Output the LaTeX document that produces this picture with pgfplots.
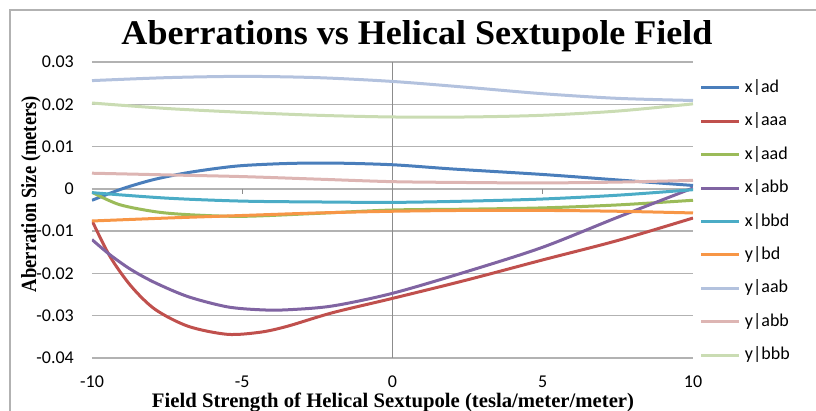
\documentclass[border=0pt]{standalone}
\usepackage{fontspec}
\setmainfont{Carlito}
\newfontfamily\titlefont{Liberation Serif}
\usepackage{graphicx}
\usepackage{pgfplots}
\pgfplotsset{compat=1.18}

\definecolor{cAD}{HTML}{4A7EBB}
\definecolor{cAAA}{HTML}{C0504D}
\definecolor{cAAD}{HTML}{9BBB59}
\definecolor{cABB}{HTML}{8064A2}
\definecolor{cBBD}{HTML}{4BACC6}
\definecolor{cBD}{HTML}{F79646}
\definecolor{cYAAB}{HTML}{B3C2DE}
\definecolor{cYABB}{HTML}{DDB5B3}
\definecolor{cYBBB}{HTML}{CADCB3}
\definecolor{gridc}{HTML}{B2B2B2}
\definecolor{axc}{HTML}{8C8C8C}

\begin{document}
\begin{tikzpicture}
\begin{axis}[
  scale only axis, width=601pt, height=296pt,
  xmin=-10, xmax=10, ymin=-0.04, ymax=0.03,
  axis line style={draw=none},
  tick style={draw=none},
  scaled y ticks=false,
  xtick={-10,-5,0,5,10}, xticklabels={-10,-5,0,5,10},
  ytick={-0.04,-0.03,-0.02,-0.01,0,0.01,0.02,0.03},
  yticklabels={-0.04,-0.03,-0.02,-0.01,0,0.01,0.02,0.03},
  ymajorgrids, grid style={color=gridc, line width=1.3pt},
  ticklabel style={font=\fontsize{18}{20}\selectfont},
  xticklabel style={anchor=north, inner sep=0pt, yshift=-18pt},
  yticklabel style={anchor=east, inner sep=0pt, xshift=-18pt},
  every axis plot/.append style={line width=3pt, smooth},
  legend cell align=left,
  legend image code/.code={\draw[#1, line width=3pt] (0pt,0pt) -- (38pt,0pt);},
  legend style={draw=none, fill=none, inner sep=0pt, outer sep=0pt,
    at={(1.0116,0.9375)}, anchor=north west,
    font=\fontsize{18}{20}\selectfont, row sep=18.4pt,
    nodes={inner sep=0pt, text height=12pt, text depth=3pt},
    /tikz/every odd column/.append style={column sep=4pt}},
]
\draw[gridc, line width=1.3pt] (axis cs:-10,0) -- (axis cs:10,0);
\draw[axc, line width=1.3pt] (axis cs:0,-0.04) -- (axis cs:0,0.03);
\draw[axc, line width=1.3pt] (axis cs:-5,0) -- ++(0pt,-5pt);
\draw[axc, line width=1.3pt] (axis cs:5,0) -- ++(0pt,-5pt);

\addplot[cAD] coordinates {(-10,-0.0027) (-9,0.0000) (-8,0.0021) (-7,0.0036) (-6,0.0047) (-5,0.0055) (-3.5,0.0060) (-2,0.0061) (0,0.0057) (2,0.0047) (5,0.0034) (7.5,0.0021) (10,0.0008)};
\addlegendentry{x|ad}
\addplot[cAAA] coordinates {(-10,-0.0075) (-9.4,-0.0160) (-8.7,-0.0230) (-7.9,-0.0285) (-6.8,-0.0325) (-5.5,-0.0344) (-4.4,-0.0339) (-3.5,-0.0325) (-2,-0.0293) (0,-0.0259) (2.5,-0.0215) (5,-0.0168) (7.5,-0.0122) (10,-0.0069)};
\addlegendentry{x|aaa}
\addplot[cAAD] coordinates {(-10,-0.0008) (-9.1,-0.0037) (-7.9,-0.0054) (-6.8,-0.0061) (-5,-0.0065) (-2.5,-0.0058) (0,-0.0050) (2.5,-0.0048) (5,-0.0045) (7.5,-0.0038) (10,-0.0027)};
\addlegendentry{x|aad}
\addplot[cABB] coordinates {(-10,-0.0120) (-9.4,-0.0156) (-8.7,-0.0191) (-7.9,-0.0222) (-6.8,-0.0255) (-5.5,-0.0279) (-4.4,-0.0286) (-3.5,-0.0286) (-2,-0.0277) (0,-0.0247) (2.5,-0.0195) (5,-0.0138) (7.5,-0.0067) (10,0.0002)};
\addlegendentry{x|abb}
\addplot[cBBD] coordinates {(-10,-0.0009) (-7.5,-0.0022) (-5,-0.0029) (-2.5,-0.0031) (0,-0.0032) (2.5,-0.0029) (5,-0.0024) (7.5,-0.0015) (10,-0.0002)};
\addlegendentry{x|bbd}
\addplot[cBD] coordinates {(-10,-0.0076) (-7.5,-0.0069) (-5,-0.0063) (-2.5,-0.0057) (0,-0.0053) (2.5,-0.0051) (5,-0.0051) (7.5,-0.0053) (10,-0.0057)};
\addlegendentry{y|bd}
\addplot[cYAAB] coordinates {(-10,0.0256) (-7.5,0.0263) (-5,0.0266) (-2.5,0.0263) (0,0.0254) (2.5,0.0240) (5,0.0225) (7.5,0.0214) (10,0.0209)};
\addlegendentry{y|aab}
\addplot[cYABB] coordinates {(-10,0.0037) (-7.5,0.0033) (-5,0.0029) (-2.5,0.0023) (0,0.0017) (2.5,0.0015) (5,0.0014) (7.5,0.0016) (10,0.0020)};
\addlegendentry{y|abb}
\addplot[cYBBB] coordinates {(-10,0.0203) (-7.5,0.0190) (-5,0.0181) (-2.5,0.0174) (0,0.0170) (2.5,0.0170) (5,0.0174) (7.5,0.0184) (10,0.0201)};
\addlegendentry{y|bbb}
\end{axis}
\node[anchor=base, inner sep=0pt] at (325pt,313pt) {\resizebox{591pt}{24pt}{\titlefont\bfseries Aberrations vs Helical Sextupole Field}};
\node[anchor=base, inner sep=0pt] at (301pt,-49.5pt) {\resizebox{482pt}{14.5pt}{\titlefont\bfseries Field Strength of Helical Sextupole (tesla/meter/meter)}};
\node[anchor=base, inner sep=0pt, rotate=90] at (-56pt,164pt) {\resizebox{196pt}{15pt}{\titlefont\bfseries Aberration Size (meters)}};
\draw[gray!60, line width=1.3pt] (-82pt,-60pt) -- (-82pt,348pt) -- (740pt,348pt);
\pgfresetboundingbox
\path[use as bounding box] (-92pt,-53pt) rectangle (724pt,358pt);
\end{tikzpicture}
\end{document}
